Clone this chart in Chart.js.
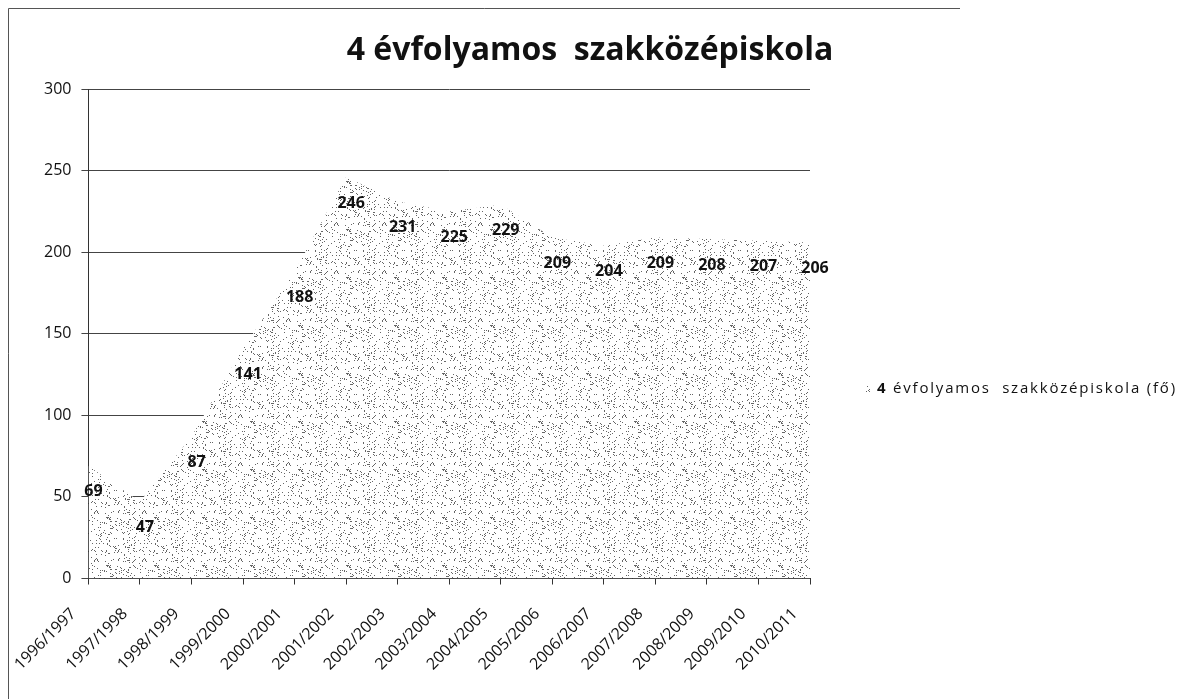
<!DOCTYPE html>
<html>
<head>
<meta charset="utf-8">
<title>4 évfolyamos szakközépiskola</title>
<script src="https://cdn.jsdelivr.net/npm/chart.js@4"></script>
<style>
    html, body { margin: 0; padding: 0; background: #fff; }
    #wrap { width: 1184px; height: 699px; position: relative; }
</style>
</head>
<body>
<div id="wrap"><canvas id="areaChart"></canvas></div>
<script>
// ===== Data =====
const schoolYears = [
    '1996/1997', '1997/1998', '1998/1999', '1999/2000', '2000/2001',
    '2001/2002', '2002/2003', '2003/2004', '2004/2005', '2005/2006',
    '2006/2007', '2007/2008', '2008/2009', '2009/2010', '2010/2011'
];
const studentCounts = [69, 47, 87, 141, 188, 246, 231, 225, 229, 209, 204, 209, 208, 207, 206];
const yTicks = [0, 50, 100, 150, 200, 250, 300];

const chartTitle = '4 évfolyamos  szakközépiskola';
const legendHead = '4';
const legendRest = ' évfolyamos  szakközépiskola (fő)';

const FONT = '"Open Sans", Lato, sans-serif';

// Stippled fill, like the printed/scanned grey area
function makeStipple() {
    const size = 48;
    const c = document.createElement('canvas');
    c.width = size;
    c.height = size;
    const g = c.getContext('2d');
    g.fillStyle = '#ffffff';
    g.fillRect(0, 0, size, size);
    g.fillStyle = '#666666';
    let seed = 12345;
    const next = () => {
        seed = (seed * 1103515245 + 12345) % 2147483648;
        return seed / 2147483648;
    };
    for (let i = 0; i < 210; i++) {
        g.fillRect(Math.floor(next() * size), Math.floor(next() * size), 1, 1);
    }
    return g.createPattern(c, 'repeat');
}

const stipple = makeStipple();

// Values printed under each point
const valueLabels = {
    id: 'valueLabels',
    afterDatasetsDraw(chart) {
        const ctx = chart.ctx;
        const meta = chart.getDatasetMeta(0);
        ctx.save();
        ctx.font = 'bold 16px ' + FONT;
        ctx.fillStyle = '#111';
        ctx.textAlign = 'center';
        ctx.textBaseline = 'middle';
        meta.data.forEach((pt, i) => {
            ctx.fillText(String(studentCounts[i]), pt.x + 5, pt.y + 26);
        });
        ctx.restore();
    }
};

// Frame edges, centred title and the right-hand legend
const decorations = {
    id: 'decorations',
    beforeDraw(chart) {
        const ctx = chart.ctx;
        ctx.save();
        ctx.strokeStyle = '#555';
        ctx.lineWidth = 1;
        ctx.beginPath();
        ctx.moveTo(8.5, 699);
        ctx.lineTo(8.5, 8.5);
        ctx.lineTo(960, 8.5);
        ctx.stroke();

        ctx.font = 'bold 32px ' + FONT;
        ctx.fillStyle = '#111';
        ctx.textAlign = 'center';
        ctx.textBaseline = 'middle';
        ctx.fillText(chartTitle, chart.width / 2 - 2, 51);
        ctx.restore();
    },
    afterDraw(chart) {
        const ctx = chart.ctx;
        const legendX = chart.chartArea.right + 58;
        const legendY = 389;
        ctx.save();
        ctx.fillStyle = stipple;
        ctx.fillRect(legendX - 2, legendY - 3, 5, 6);
        ctx.fillStyle = '#111';
        ctx.textAlign = 'left';
        ctx.textBaseline = 'middle';
        if ('letterSpacing' in ctx) ctx.letterSpacing = '1.8px';
        ctx.font = 'bold 15px ' + FONT;
        ctx.fillText(legendHead, legendX + 9, legendY);
        const headW = ctx.measureText(legendHead).width;
        ctx.font = '15px ' + FONT;
        ctx.fillText(legendRest, legendX + 9 + headW, legendY);
        ctx.restore();
    }
};

function drawChart() {
    const ctx = document.getElementById('areaChart').getContext('2d');

    new Chart(ctx, {
        type: 'line',
        data: {
            labels: schoolYears,
            datasets: [{
                label: legendHead + legendRest,
                data: studentCounts,
                fill: 'origin',
                backgroundColor: stipple,
                borderWidth: 0,
                borderColor: 'rgba(0,0,0,0)',
                pointRadius: 0,
                tension: 0
            }]
        },
        options: {
            responsive: true,
            maintainAspectRatio: false,
            animation: false,
            layout: {
                padding: { left: 34, right: 374, top: 89, bottom: 5 }
            },
            plugins: {
                title: { display: false },
                legend: { display: false },
                tooltip: { enabled: false }
            },
            scales: {
                x: {
                    offset: false,
                    grid: {
                        display: true,
                        drawOnChartArea: false,
                        drawTicks: true,
                        tickLength: 6,
                        color: '#333'
                    },
                    border: { display: true, color: '#333', width: 1 },
                    ticks: {
                        color: '#111',
                        font: { family: FONT, size: 16 },
                        maxRotation: 45,
                        minRotation: 45,
                        autoSkip: false,
                        padding: 20,
                        labelOffset: -15
                    }
                },
                y: {
                    min: 0,
                    max: 300,
                    afterBuildTicks: (axis) => {
                        axis.ticks = yTicks.map(v => ({ value: v }));
                    },
                    grid: {
                        color: '#444',
                        lineWidth: 1,
                        tickLength: 7
                    },
                    border: { display: true, color: '#333', width: 1 },
                    ticks: {
                        color: '#111',
                        font: { family: FONT, size: 16 },
                        padding: 10
                    }
                }
            }
        },
        plugins: [decorations, valueLabels]
    });
}

Promise.all([
    document.fonts.load('16px "Open Sans"'),
    document.fonts.load('bold 16px "Open Sans"')
]).then(drawChart, drawChart);
</script>
</body>
</html>
